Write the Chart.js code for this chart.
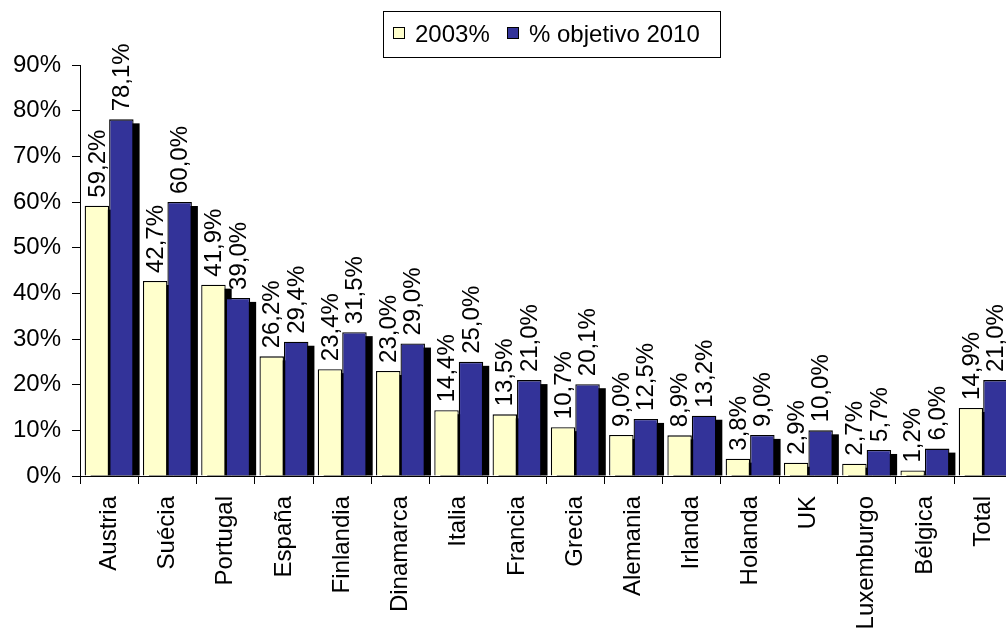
<!DOCTYPE html>
<html><head><meta charset="utf-8">
<script src="https://cdn.jsdelivr.net/npm/chart.js@4/dist/chart.umd.min.js"></script>
<style>html,body{margin:0;padding:0;background:#fff;overflow:hidden;width:1006px;height:632px}canvas{display:block}</style>
</head><body>
<canvas id="c" width="1024" height="632"></canvas>
<script>
const categories = ['Austria','Suécia','Portugal','España','Finlandia','Dinamarca','Italia','Francia','Grecia','Alemania','Irlanda','Holanda','UK','Luxemburgo','Bélgica','Total'];
const values2003 = [59.2,42.7,41.9,26.2,23.4,23.0,14.4,13.5,10.7,9.0,8.9,3.8,2.9,2.7,1.2,14.9];
const valuesObjetivo2010 = [78.1,60.0,39.0,29.4,31.5,29.0,25.0,21.0,20.1,12.5,13.2,9.0,10.0,5.7,6.0,21.0];
const seriesNames = ['2003%','% objetivo 2010'];
const yTickMin = 0, yTickMax = 90, yTickStep = 10;

const FONT = "'Liberation Sans', Arial, sans-serif";
Chart.defaults.font.family = FONT;
Chart.defaults.font.size = 24;
Chart.defaults.color = '#000';

const fmt = v => v.toFixed(1).replace('.', ',') + '%';

const shadowPlugin = {
  id: 'barShadow',
  beforeDatasetsDraw(chart) {
    const ctx = chart.ctx, a = chart.chartArea;
    ctx.save();
    ctx.beginPath();
    ctx.rect(a.left, 0, chart.width - a.left, a.bottom);
    ctx.clip();
    ctx.fillStyle = '#000';
    chart.data.datasets.forEach((ds, i) => {
      chart.getDatasetMeta(i).data.forEach(bar => {
        const p = bar.getProps(['x','y','base','width'], true);
        ctx.fillRect(p.x - p.width / 2 + 6, p.y + 4, p.width, p.base - p.y - 4);
      });
    });
    ctx.restore();
  }
};

const labelPlugin = {
  id: 'valueLabels',
  afterDatasetsDraw(chart) {
    const ctx = chart.ctx;
    ctx.save();
    ctx.font = '24px ' + FONT;
    ctx.fillStyle = '#000';
    ctx.textAlign = 'left';
    ctx.textBaseline = 'middle';
    chart.data.datasets.forEach((ds, i) => {
      chart.getDatasetMeta(i).data.forEach((bar, j) => {
        const p = bar.getProps(['x','y'], true);
        ctx.save();
        ctx.translate(p.x + 1, p.y - 8);
        ctx.rotate(-Math.PI / 2);
        ctx.fillText(fmt(ds.data[j]), 0, 0);
        ctx.restore();
      });
    });
    ctx.restore();
  }
};

const legendPlugin = {
  id: 'boxLegend',
  afterDraw(chart) {
    const ctx = chart.ctx;
    const ds = chart.data.datasets;
    ctx.save();
    ctx.font = '24px ' + FONT;
    ctx.lineWidth = 1;
    ctx.strokeStyle = '#000';
    ctx.fillStyle = '#fff';
    ctx.fillRect(383.5, 11.5, 337, 46);
    ctx.strokeRect(383.5, 11.5, 337, 46);
    const squares = [393.5, 507.5], texts = [415, 529];
    [0, 1].forEach(i => {
      ctx.fillStyle = ds[i].backgroundColor;
      ctx.fillRect(squares[i], 27.5, 11, 11);
      ctx.strokeRect(squares[i], 27.5, 11, 11);
      ctx.fillStyle = '#000';
      ctx.textBaseline = 'alphabetic';
      ctx.textAlign = 'left';
      ctx.fillText(ds[i].label, texts[i], 41.5);
    });
    ctx.restore();
  }
};

new Chart(document.getElementById('c'), {
  type: 'bar',
  data: {
    labels: categories,
    datasets: [
      { label: seriesNames[0], data: values2003, backgroundColor: '#FFFFCC', borderColor: '#000', borderWidth: 1.3 },
      { label: seriesNames[1], data: valuesObjetivo2010, backgroundColor: '#333399', borderColor: '#000', borderWidth: 1.3 }
    ]
  },
  options: {
    responsive: false,
    animation: false,
    devicePixelRatio: 1,
    layout: { padding: { top: 65, left: 0, right: 0, bottom: 0 } },
    datasets: { bar: { categoryPercentage: 0.84, barPercentage: 1 } },
    plugins: { legend: { display: false }, tooltip: { enabled: false } },
    scales: {
      x: {
        grid: { display: true, drawOnChartArea: false, offset: true, tickLength: 8, color: '#000' },
        border: { color: '#000', width: 1 },
        ticks: { maxRotation: 90, minRotation: 90, padding: 12, autoSkip: false, color: '#000' },
        afterFit: s => { s.height = 156; }
      },
      y: {
        min: yTickMin, max: yTickMax,
        grid: { display: true, drawOnChartArea: false, tickLength: 8, color: '#000' },
        border: { color: '#000', width: 1 },
        ticks: { stepSize: yTickStep, padding: 11, color: '#000', callback: v => v + '%' },
        afterFit: s => { s.width = 80; }
      }
    }
  },
  plugins: [shadowPlugin, labelPlugin, legendPlugin]
});
</script>
</body></html>
